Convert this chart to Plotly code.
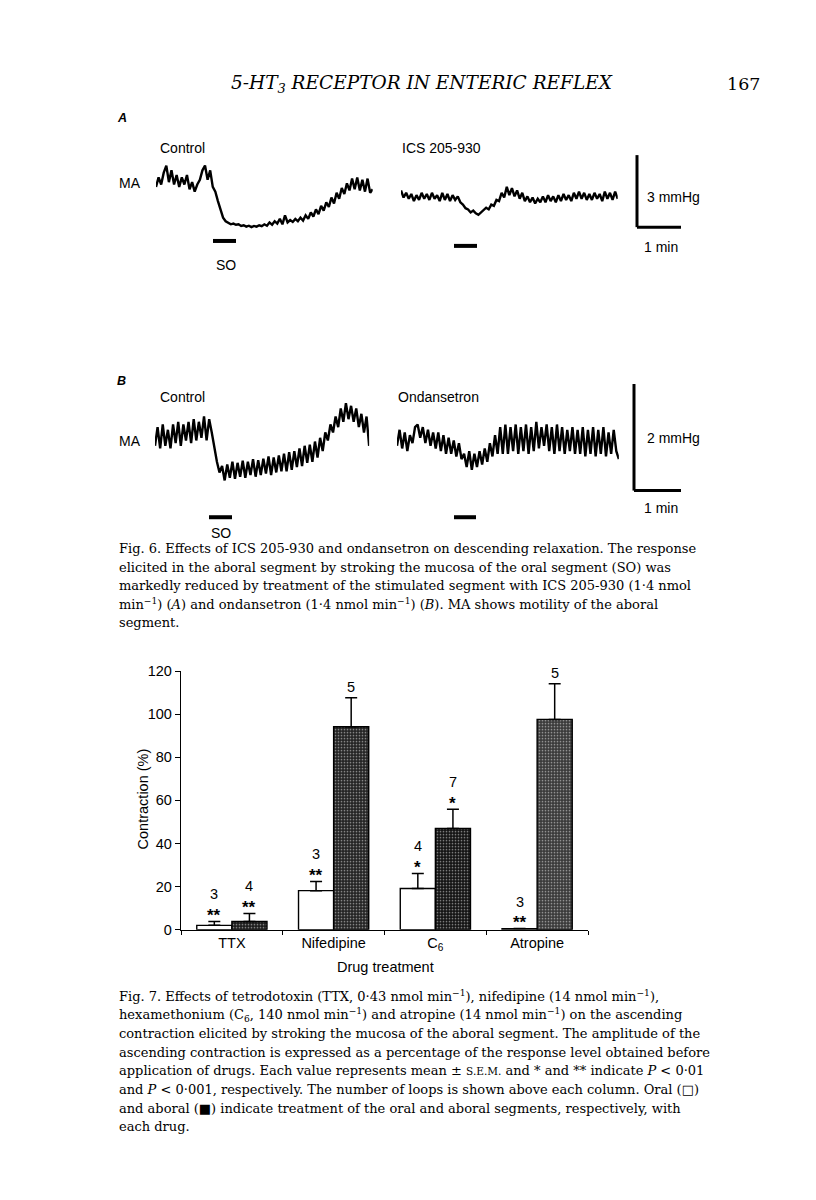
import plotly.graph_objects as go

W, H = 816, 1200
PAGE_PAD = 8  # default body margin of the html page

# ---- Fig. 7 data (contraction, % of pre-drug response) ----
drugs = ["TTX", "Nifedipine", "C<sub>6</sub>", "Atropine"]
oral_mean = [2.0, 18.1, 19.1, 0.5]
oral_sem = [1.8, 4.3, 7.0, 0.0]
oral_n = ["3", "3", "4", "3"]
oral_sig = ["**", "**", "*", "**"]
aboral_mean = [3.8, 94.2, 47.0, 97.6]
aboral_sem = [3.7, 13.4, 8.9, 16.6]
aboral_n = ["4", "5", "7", "5"]
aboral_sig = ["**", "", "*", ""]
aboral_shade = ["#1c1c1c", "#242424", "#141414", "#3a3a3a"]
aboral_dots = ["#444444", "#505050", "#3a3a3a", "#707070"]

# ---- Fig. 6 traces (mmHg, one sample every 0.06 min) ----
dt = 0.06
a_control = [
    1.7, 2.1, 1.8, 2.3, 2.6, 1.9, 2.4, 1.8, 2.2, 1.7,
    2.1, 1.8, 2.2, 1.6, 1.9, 1.5, 1.8, 2.0, 2.4, 2.6,
    2.0, 2.4, 1.7, 1.5, 1.1, 0.7, 0.4, 0.25, 0.2, 0.12,
    0.15, 0.1, 0.12, 0.05, 0.08, 0.02, 0.06, 0.0, 0.05, 0.02,
    0.08, 0.04, 0.12, 0.06, 0.2, 0.1, 0.25, 0.15, 0.35, 0.12,
    0.5, 0.2, 0.3, 0.22, 0.35, 0.25, 0.4, 0.28, 0.5, 0.35,
    0.62, 0.45, 0.75, 0.55, 0.9, 0.7, 1.05, 0.85, 1.25, 1.0,
    1.45, 1.2, 1.65, 1.4, 1.85, 1.55, 2.05, 1.6, 2.1, 1.55,
    2.0, 1.5, 2.05, 1.45, 1.6]
a_ics = [
    1.55, 1.25, 1.45, 1.2, 1.4, 1.1, 1.35, 1.15, 1.45, 1.2,
    1.4, 1.15, 1.45, 1.2, 1.35, 1.1, 1.45, 1.15, 1.4, 1.1,
    1.35, 1.15, 1.3, 1.05, 0.95, 0.8, 0.75, 0.62, 0.7, 0.58,
    0.52, 0.62, 0.7, 0.82, 0.75, 0.95, 0.9, 1.15, 1.1, 1.45,
    1.25, 1.7, 1.35, 1.65, 1.3, 1.55, 1.2, 1.45, 1.1, 1.3,
    1.05, 1.25, 1.0, 1.2, 1.05, 1.3, 1.05, 1.35, 1.1, 1.3,
    1.05, 1.35, 1.1, 1.4, 1.15, 1.35, 1.1, 1.45, 1.2, 1.5,
    1.2, 1.45, 1.15, 1.4, 1.15, 1.45, 1.2, 1.4, 1.1, 1.5,
    1.2, 1.45, 1.15, 1.5, 1.2]
b_control = [
    0.6, 0.95, 0.55, 1.0, 0.6, 0.9, 0.55, 1.0, 0.65, 1.05,
    0.6, 1.0, 0.7, 1.05, 0.65, 1.1, 0.7, 1.05, 0.75, 1.15,
    0.7, 1.1, 0.85, 0.55, 0.3, 0.1, 0.22, -0.05, 0.25, 0.0,
    0.3, -0.02, 0.28, 0.02, 0.32, 0.0, 0.3, 0.05, 0.35, 0.02,
    0.33, 0.05, 0.36, 0.08, 0.4, 0.05, 0.38, 0.1, 0.42, 0.12,
    0.45, 0.12, 0.48, 0.15, 0.5, 0.2, 0.55, 0.22, 0.6, 0.28,
    0.62, 0.3, 0.68, 0.38, 0.75, 0.5, 0.85, 0.7, 1.0, 0.85,
    1.15, 0.95, 1.3, 1.05, 1.4, 1.1, 1.35, 1.05, 1.3, 0.95,
    1.2, 0.85, 1.15, 0.6]
b_ondansetron = [
    0.6, 0.9, 0.55, 0.85, 0.5, 0.8, 0.65, 0.95, 1.0, 0.75,
    0.95, 0.65, 0.9, 0.6, 0.85, 0.55, 0.85, 0.5, 0.8, 0.45,
    0.75, 0.45, 0.7, 0.4, 0.65, 0.35, 0.45, 0.2, 0.5, 0.15,
    0.45, 0.2, 0.5, 0.25, 0.55, 0.3, 0.65, 0.4, 0.8, 0.45,
    0.95, 0.45, 1.0, 0.45, 0.95, 0.5, 1.0, 0.45, 0.95, 0.5,
    1.0, 0.45, 0.95, 0.5, 1.05, 0.55, 0.95, 0.6, 1.0, 0.5,
    0.95, 0.45, 1.0, 0.5, 0.95, 0.45, 0.9, 0.5, 0.95, 0.45,
    0.9, 0.45, 0.95, 0.4, 0.9, 0.45, 0.95, 0.4, 0.9, 0.45,
    0.95, 0.4, 0.85, 0.45, 0.9, 0.5, 0.35]

fig6_caption = [
    "Fig. 6. Effects of ICS 205-930 and ondansetron on descending relaxation. The response",
    "elicited in the aboral segment by stroking the mucosa of the oral segment (SO) was",
    "markedly reduced by treatment of the stimulated segment with ICS 205-930 (1·4 nmol",
    "min<sup>−1</sup>) (<i>A</i>) and ondansetron (1·4 nmol min<sup>−1</sup>) (<i>B</i>). MA shows motility of the aboral",
    "segment.",
]
fig7_caption = [
    "Fig. 7. Effects of tetrodotoxin (TTX, 0·43 nmol min<sup>−1</sup>), nifedipine (14 nmol min<sup>−1</sup>),",
    "hexamethonium (C<sub>6</sub>, 140 nmol min<sup>−1</sup>) and atropine (14 nmol min<sup>−1</sup>) on the ascending",
    "contraction elicited by stroking the mucosa of the aboral segment. The amplitude of the",
    "ascending contraction is expressed as a percentage of the response level obtained before",
    "application of drugs. Each value represents mean ± <span style='font-size:10.5px'>S.E.M.</span> and * and ** indicate <i>P</i> < 0·01",
    "and <i>P</i> < 0·001, respectively. The number of loops is shown above each column. Oral (□)",
    "and aboral (■) indicate treatment of the oral and aboral segments, respectively, with",
    "each drug.",
]

SERIF = "DejaVu Serif"
SANS = "Liberation Sans"


def fx(px):
    return (px - PAGE_PAD) / W


def fy(py):
    return 1 - (py - PAGE_PAD) / H


fig = go.Figure()
layout_axes = {}
PX_PER_MIN = 43.0


def add_record(idx, vals, x0, zero_py, px_per_mmhg, lo, hi):
    n = len(vals)
    span = (n - 1) * dt
    xs = [i * dt for i in range(n)]
    xn = "xaxis" if idx == 1 else f"xaxis{idx}"
    yn = "yaxis" if idx == 1 else f"yaxis{idx}"
    fig.add_trace(go.Scatter(x=xs, y=vals, mode="lines", line=dict(color="black", width=2.4),
                             xaxis="x" if idx == 1 else f"x{idx}",
                             yaxis="y" if idx == 1 else f"y{idx}", showlegend=False,
                             hoverinfo="skip"))
    layout_axes[xn] = dict(domain=[fx(x0), fx(x0 + span * PX_PER_MIN)], range=[0, span],
                           visible=False, anchor="y" if idx == 1 else f"y{idx}")
    layout_axes[yn] = dict(domain=[fy(zero_py - lo * px_per_mmhg), fy(zero_py - hi * px_per_mmhg)],
                           range=[lo, hi], visible=False, anchor="x" if idx == 1 else f"x{idx}")


add_record(1, a_control, 156, 222, 24, -0.5, 3.2)
add_record(2, a_ics, 401, 222, 24, -0.5, 3.2)
add_record(3, b_control, 155, 476, 54, -0.3, 1.6)
add_record(4, b_ondansetron, 397, 476, 54, -0.3, 1.6)

# ---- Fig. 7 bar chart ----
fig.add_trace(go.Bar(
    x=drugs, y=oral_mean, xaxis="x5", yaxis="y5", showlegend=False,
    marker=dict(color="white", line=dict(color="black", width=1.4)),
    error_y=dict(type="data", array=oral_sem, arrayminus=[0] * 4, symmetric=False,
                 color="black", thickness=1.5, width=6),
))
fig.add_trace(go.Bar(
    x=drugs, y=aboral_mean, xaxis="x5", yaxis="y5", showlegend=False,
    marker=dict(color=aboral_shade, line=dict(color="black", width=1.4),
                pattern=dict(shape=".", fgcolor=aboral_dots, bgcolor=aboral_shade,
                             size=3, solidity=0.25)),
    error_y=dict(type="data", array=aboral_sem, arrayminus=[0] * 4, symmetric=False,
                 color="black", thickness=1.5, width=6),
))
CHART_FONT = dict(family=SANS, size=14.5, color="black")
layout_axes["xaxis5"] = dict(
    domain=[fx(181), fx(588)], anchor="y5", showline=True, linecolor="black", linewidth=1.4,
    ticks="outside", tickson="boundaries", ticklen=4, tickcolor="black", tickwidth=1.3,
    tickfont=CHART_FONT, showgrid=False,
)
layout_axes["yaxis5"] = dict(
    domain=[fy(934), fy(672)], anchor="x5", range=[0, 120], showline=True, linecolor="black",
    linewidth=1.4, ticks="outside", ticklen=5, tickcolor="black", tickwidth=1.3,
    tickvals=[0, 20, 40, 60, 80, 100, 120], showgrid=False, zeroline=False,
    tickfont=CHART_FONT,
)

ann = []
for i, d in enumerate(drugs):
    for mean, sem, n, sig, off in ((oral_mean[i], oral_sem[i], oral_n[i], oral_sig[i], -0.5),
                                   (aboral_mean[i], aboral_sem[i], aboral_n[i], aboral_sig[i], 0.5)):
        top = mean + sem
        if sig:
            ann.append(dict(x=d, y=top, xref="x5", yref="y5", text="<b>" + sig + "</b>",
                            showarrow=False, xshift=off * 35, yshift=6, yanchor="middle",
                            font=dict(family=SANS, size=17, color="black")))
            ann.append(dict(x=d, y=top, xref="x5", yref="y5", text=n, showarrow=False,
                            xshift=off * 35, yshift=27, yanchor="middle", font=CHART_FONT))
        else:
            ann.append(dict(x=d, y=top, xref="x5", yref="y5", text=n, showarrow=False,
                            xshift=off * 35, yshift=11, yanchor="middle", font=CHART_FONT))


def text(px, py, s, family=SANS, size=14, anchor="left", angle=0):
    ann.append(dict(x=fx(px), y=fy(py), xref="paper", yref="paper", text=s, showarrow=False,
                    xanchor=anchor, yanchor="middle", textangle=angle,
                    font=dict(family=family, size=size, color="black")))


# axis titles of Fig. 7
text(385, 972, "Drug treatment", anchor="center", size=14.5)
text(143, 802, "Contraction (%)", anchor="center", size=14.5, angle=-90)

# running head
text(422, 77, "<i>5-HT<sub>3</sub> RECEPTOR IN ENTERIC REFLEX</i>", SERIF, 18.5, "center")
text(762, 77, "167", SERIF, 17.5, "right")

# Fig. 6 labels
text(115, 111, "<b><i>A</i></b>", SANS, 12.5)
text(158, 142, "Control")
text(400, 142, "ICS 205-930")
text(117, 177, "MA")
text(226, 260, "SO", anchor="center")
text(645, 191, "3 mmHg")
text(661, 242, "1 min", anchor="center")
text(115, 378, "<b><i>B</i></b>", SANS, 12.5)
text(158, 394, "Control")
text(396, 394, "Ondansetron")
text(117, 439, "MA")
text(221, 532, "SO", anchor="center")
text(645, 436, "2 mmHg")
text(661, 507, "1 min", anchor="center")

for k, line in enumerate(fig6_caption):
    text(117, 548 + k * 18.6, line, SERIF, 13.0)
for k, line in enumerate(fig7_caption):
    text(117, 1001 + k * 19.0, line, SERIF, 13.0)

shapes = []


def seg(x0, y0, x1, y1, w=3):
    shapes.append(dict(type="line", xref="paper", yref="paper", x0=fx(x0), y0=fy(y0),
                       x1=fx(x1), y1=fy(y1), line=dict(color="black", width=w)))


# scale bars
seg(637, 149, 637, 222)
seg(637, 222, 681, 222)
seg(634, 381, 634, 489)
seg(634, 489, 681, 489)
# stimulus markers
seg(213, 236, 236, 236, 4)
seg(454, 241, 477, 241, 4)
seg(209, 516, 232, 516, 4)
seg(454, 516, 476, 516, 4)

fig.update_layout(
    width=W, height=H, margin=dict(l=0, r=0, t=0, b=0),
    paper_bgcolor="white", plot_bgcolor="white",
    barmode="group", bargap=0.31, bargroupgap=0,
    annotations=ann, shapes=shapes, **layout_axes,
)

fig.write_html("out.html")
